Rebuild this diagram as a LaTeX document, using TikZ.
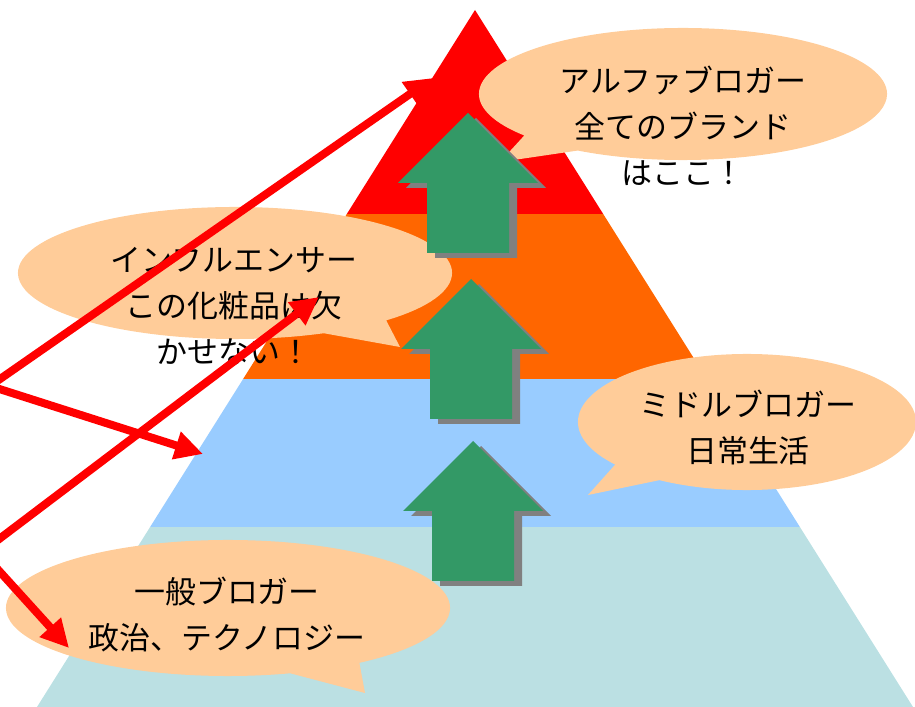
\documentclass[tikz,border=0pt]{standalone}
\usepackage{fontspec}
\newfontfamily\jpfont{Noto Sans CJK JP}
\usetikzlibrary{arrows.meta,shapes.callouts}
\definecolor{tierred}{HTML}{FF0000}
\definecolor{tierorange}{HTML}{FF6600}
\definecolor{tierblue}{HTML}{99CCFF}
\definecolor{tiercyan}{HTML}{BBE0E3}
\definecolor{bubblepeach}{HTML}{FFCC99}
\definecolor{arrowgreen}{HTML}{339966}
\definecolor{arrowshadow}{HTML}{808080}

\begin{document}
\begin{tikzpicture}[x=0.025cm,y=-0.025cm,
  bubble/.style={ellipse callout,fill=bubblepeach,inner sep=0pt,callout pointer arc=20},
  bubbletext/.style={align=center,font=\jpfont\fontsize{22}{32.7}\selectfont},
  push/.style={draw=red,line width=0.2cm,-{Triangle[length=0.7cm,width=0.68cm]}},
  uparrow/.pic={\foreach \dx/\dy/\col in {8/5/arrowshadow,0/0/arrowgreen}
    \fill[\col,shift={(\dx,\dy)}] (0,0) -- (70,70) -- (41,70) -- (41,140) -- (-41,140) -- (-41,70) -- (-70,70) -- cycle;}]
  \clip (0,0) rectangle (915,707);
  \coordinate (apex) at (475,10);
  \coordinate (baseL) at (37,707);
  \coordinate (baseR) at (913,707);
  % pyramid tiers
  \begin{scope}
    \clip (apex) -- (baseL) -- (baseR) -- cycle;
    \fill[tierred] (0,0) rectangle (915,214);
    \fill[tierorange] (0,214) rectangle (915,379);
    \fill[tierblue] (0,379) rectangle (915,527);
    \fill[tiercyan] (0,527) rectangle (915,707);
  \end{scope}
  % speech bubbles
  \node[bubble,minimum width=10.2cm,minimum height=3.3cm,callout absolute pointer={(500,162)}] (alpha) at (683,94) {};
  \node[bubble,minimum width=10.85cm,minimum height=3.3cm,callout absolute pointer={(400,347)}] (influencer) at (235,273) {};
  \node[bubble,minimum width=8.45cm,minimum height=3.4cm,callout absolute pointer={(588,495)}] (middle) at (747,422) {};
  \node[bubble,minimum width=11.1cm,minimum height=3.4cm,callout absolute pointer={(365,693)}] (general) at (228,608) {};
  % step-up arrows
  \pic at (468,113) {uparrow};
  \pic at (471,279) {uparrow};
  \pic at (473,441) {uparrow};
  \node[bubbletext] (alphatext) at (683,126) {アルファブロガー\\全てのブランド\\はここ！};
  \node[bubbletext] (influencertext) at (234,306) {インフルエンサー\\この化粧品は欠\\かせない！};
  \node[bubbletext] (middletext) at (748,427) {ミドルブロガー\\日常生活};
  \node[bubbletext] (generaltext) at (227,615) {一般ブロガー\\政治、テクノロジー};
  % red arrows
  \coordinate (fanA) at (-10,386);
  \coordinate (fanB) at (-18,552);
  \coordinate (toalpha) at (433,78);
  \coordinate (tomiddle) at (203,454);
  \coordinate (toinfluencer) at (319,297);
  \coordinate (togeneral) at (69,648);
  \draw[push] (fanA) -- (toalpha);
  \draw[push] (fanA) -- (tomiddle);
  \draw[push] (fanB) -- (toinfluencer);
  \draw[push] (fanB) -- (togeneral);
\end{tikzpicture}
\end{document}
